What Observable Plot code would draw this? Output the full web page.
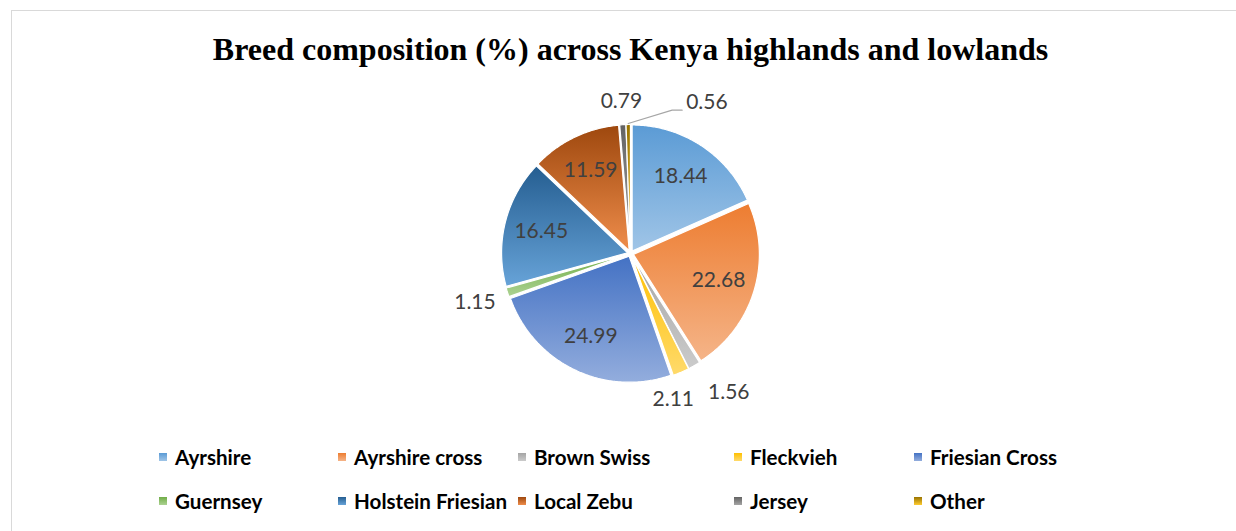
<!DOCTYPE html>
<html>
<head>
<meta charset="utf-8">
<script src="https://cdn.jsdelivr.net/npm/d3@7"></script>
<script src="https://cdn.jsdelivr.net/npm/@observablehq/plot@0.6"></script>
<style>
  body { margin: 0; background: #fff; width: 1236px; height: 531px; overflow: hidden; position: relative; }
  #frame { position: absolute; left: 11px; top: 10px; width: 1240px; height: 540px; border: 1.5px solid #d9d9d9; box-sizing: border-box; }
  #title { position: absolute; left: 0; top: 33px; width: 1261px; text-align: center; font: bold 32px "Liberation Serif", "Times New Roman", serif; line-height: 32px; color: #000; white-space: nowrap; }
  #chart { position: absolute; left: 0; top: 80px; }
  #legend { position: absolute; left: 159px; top: 435px; display: grid; grid-template-columns: 179px 180px 216px 180px 220px; grid-auto-rows: 44px; align-items: center; font: bold 20.6px Lato, "Open Sans", sans-serif; color: #000; }
  .item { display: flex; align-items: center; white-space: nowrap; }
  .sw { width: 8px; height: 8px; margin-right: 8px; flex: none; }
</style>
</head>
<body>
<div id="frame"></div>
<div id="title">Breed composition (%) across Kenya highlands and lowlands</div>
<div id="chart"></div>
<div id="legend"></div>
<script>
// ---- data ----
const breeds = ["Ayrshire", "Ayrshire cross", "Brown Swiss", "Fleckvieh", "Friesian Cross", "Guernsey", "Holstein Friesian", "Local Zebu", "Jersey", "Other"];
const shares = [18.44, 22.68, 1.56, 2.11, 24.99, 1.15, 16.45, 11.59, 0.79, 0.56];
const colors = ["#5B9BD5", "#ED7D31", "#A5A5A5", "#FFC000", "#4472C4", "#70AD47", "#255E91", "#9E480E", "#636363", "#997300"];

// ---- layout ----
const W = 1236, H = 345, CX = 630, CY = 173, R = 126, EXPLODE = 3;
const FS = 21;
const ctx = document.createElement("canvas").getContext("2d");
ctx.font = FS + "px Lato";
const textW = s => ctx.measureText(s).width;
const TH = 22;

function tint(c, k) { const h = d3.hsl(c); h.l = h.l + (1 - h.l) * k; return h.formatHex(); }

const rows = breeds.map((b, i) => ({breed: b, share: shares[i], color: colors[i], label: shares[i].toFixed(2), i}));
const arcs = d3.pie().sort(null).value(d => d.share)(rows);

const polys = arcs.map(a => {
  const mid = (a.startAngle + a.endAngle) / 2;
  const ox = Math.sin(mid) * EXPLODE, oy = -Math.cos(mid) * EXPLODE;
  const n = Math.max(2, Math.ceil((a.endAngle - a.startAngle) / 0.01));
  const pts = [{x: ox, y: oy}];
  for (let k = 0; k <= n; k++) {
    const t = a.startAngle + (a.endAngle - a.startAngle) * k / n;
    pts.push({x: ox + Math.sin(t) * R, y: oy - Math.cos(t) * R});
  }
  pts.push({x: ox, y: oy});
  return {row: a.data, mid, pts};
});

// inside labels
const inside = polys.filter(p => p.row.share >= 5).map(p => ({
  x: Math.sin(p.mid) * R * 0.73, y: -Math.cos(p.mid) * R * 0.73, text: p.row.label
}));

// outside labels with simple collision handling
const outside = polys.filter(p => p.row.share < 5).map(p => {
  const w = textW(p.row.label);
  const s = Math.sin(p.mid), c = -Math.cos(p.mid);
  const d = R + EXPLODE + 11 + Math.abs(s) * w / 2 + Math.abs(c) * TH / 2;
  return {x: s * d, y: c * d, w, text: p.row.label, mid: p.mid, leader: false};
});
for (let k = 1; k < outside.length; k++) {
  const a = outside[k - 1], b = outside[k];
  const need = (a.w + b.w) / 2 + 14;
  if (Math.abs(a.x - b.x) < need && Math.abs(a.y - b.y) < TH) {
    const dir = Math.cos(b.mid) > 0 ? 1 : -1; // clockwise tangent: right at top, left at bottom
    const ex = Math.sin(b.mid) * (R + EXPLODE), ey = -Math.cos(b.mid) * (R + EXPLODE);
    const nx = a.x + dir * need;
    const dx = Math.max(0, Math.abs(ex - nx) - b.w / 2), dy = Math.max(0, Math.abs(ey - b.y) - TH / 2);
    if (Math.hypot(dx, dy) > 22) {
      b.x = nx + dir * 30; b.leader = true;
    } else {
      // share the displacement between the two labels
      const m = (a.x + b.x) / 2;
      a.x = m - dir * need / 2; b.x = m + dir * need / 2;
    }
  }
}
const leaders = [];
outside.forEach((o, k) => {
  if (!o.leader) return;
  const ex = Math.sin(o.mid) * (R + EXPLODE + 1), ey = -Math.cos(o.mid) * (R + EXPLODE + 1);
  const dir = o.x > ex ? 1 : -1;
  const endX = o.x - dir * (o.w / 2 + 4), ly = o.y + 8;
  leaders.push({k, x: ex, y: ey}, {k, x: endX - dir * 10, y: ly}, {k, x: endX, y: ly});
});

// gradient defs (render-function mark)
function defs() {
  const ns = "http://www.w3.org/2000/svg";
  const g = document.createElementNS(ns, "defs");
  colors.forEach((c, i) => {
    const lg = document.createElementNS(ns, "linearGradient");
    lg.setAttribute("id", "pg" + i);
    lg.setAttribute("x1", 0); lg.setAttribute("y1", 0); lg.setAttribute("x2", 0); lg.setAttribute("y2", 1);
    [[0, c], [1, tint(c, 0.42)]].forEach(([o, col]) => {
      const st = document.createElementNS(ns, "stop");
      st.setAttribute("offset", o); st.setAttribute("stop-color", col);
      lg.appendChild(st);
    });
    g.appendChild(lg);
  });
  return g;
}

const chart = Plot.plot({
  width: W, height: H, margin: 0,
  x: {domain: [-CX, W - CX], range: [0, W], axis: null},
  y: {domain: [-CY, H - CY], range: [0, H], axis: null},
  marks: [
    defs,
    ...polys.map(p => Plot.line(p.pts, {x: "x", y: "y", fill: `url(#pg${p.row.i})`, stroke: "white", strokeWidth: 1.2, strokeLinejoin: "miter"})),
    Plot.text(inside, {x: "x", y: "y", text: "text", fill: "#404040", fontSize: FS, fontFamily: "Lato"}),
    Plot.text(outside, {x: "x", y: "y", text: "text", fill: "#404040", fontSize: FS, fontFamily: "Lato"}),
    Plot.line(leaders, {x: "x", y: "y", z: "k", stroke: "#a6a6a6", strokeWidth: 1.2})
  ]
});
document.getElementById("chart").appendChild(chart);

// legend
const leg = document.getElementById("legend");
rows.forEach(r => {
  const it = document.createElement("div");
  it.className = "item";
  const sw = document.createElement("span");
  sw.className = "sw";
  sw.style.background = `linear-gradient(${r.color}, ${tint(r.color, 0.42)})`;
  it.appendChild(sw);
  it.appendChild(document.createTextNode(r.breed));
  leg.appendChild(it);
});
</script>
</body>
</html>
